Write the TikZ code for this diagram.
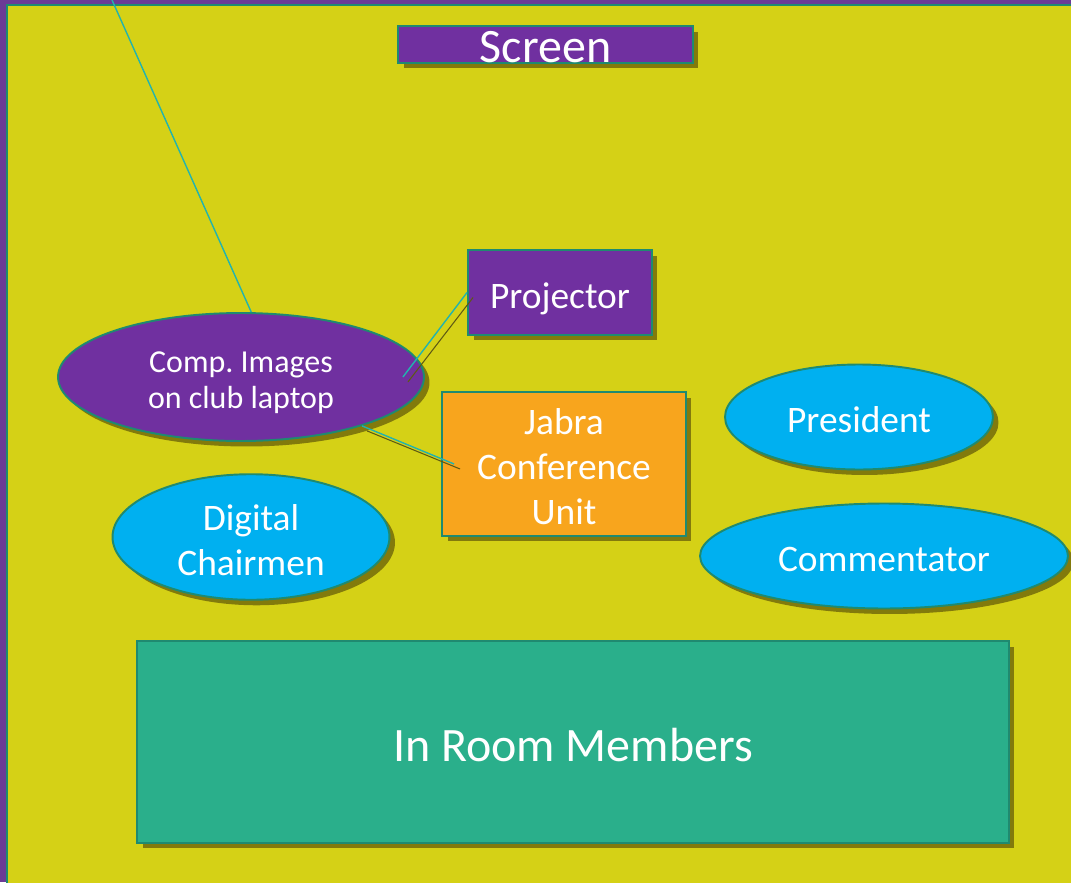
\documentclass[tikz,border=0pt]{standalone}
\usepackage{fontspec}
\setmainfont{Carlito}
\usetikzlibrary{shapes.geometric,shadows}

\definecolor{plum}{HTML}{7030A0}
\definecolor{framepurple}{HTML}{6B3A96}
\definecolor{lime}{HTML}{D5D116}
\definecolor{rim}{HTML}{1F8A70}
\definecolor{sky}{HTML}{00B0F0}
\definecolor{amber}{HTML}{F8A51D}
\definecolor{seagreen}{HTML}{2AAF8B}
\definecolor{shade}{HTML}{827A0C}
\definecolor{wirecol}{HTML}{22B3AE}
\definecolor{wireshade}{HTML}{5E5A14}

\newcommand{\bigtxt}{\fontsize{27.3}{33}\selectfont}
\newcommand{\midtxt}{\fontsize{21.3}{25.6}\selectfont}
\newcommand{\smalltxt}{\fontsize{18.2}{20.5}\selectfont}
\newcommand{\linetop}{\rule{0pt}{1.0em}}

\begin{document}
\begin{tikzpicture}[x=0.02cm,y=-0.02cm,
  box/.style={draw=rim,line width=1.1pt,text=white,align=center,inner sep=0pt,
    execute at begin node={\linetop},
    execute at end node={\rule[-0.17em]{0pt}{0.17em}},
    drop shadow={shadow xshift=0.11cm,shadow yshift=-0.11cm,fill=shade,opacity=1}},
  oval/.style={box,ellipse},
  wire/.style={draw=wirecol,line width=0.8pt},
  wireshadow/.style={draw=wireshade,line width=0.6pt}]
  \useasboundingbox (0,0) rectangle (1071,882);

  % fond
  \fill[framepurple] (0,0) rectangle (1071,882);
  \filldraw[fill=lime,draw=rim,line width=1.1pt] (7,5) rectangle (1080,890);

  % ecran
  \node[box,fill=plum,font=\bigtxt,text height=0.74cm,text depth=0cm,
    minimum width=5.9cm,minimum height=0.74cm] (screen) at (545.5,44.5) {Screen};

  % proiector si laptop
  \node[box,fill=plum,font=\midtxt,minimum width=3.68cm,minimum height=1.7cm] (projector) at (560,292.5) {Projector};
  \node[oval,fill=plum,font=\smalltxt,minimum width=7.32cm,minimum height=2.56cm] (laptop) at (241,377) {\linetop Comp.\ Images\\on club laptop};

  % jabra
  \node[box,fill=amber,font=\midtxt,minimum width=4.88cm,minimum height=2.88cm] (jabra) at (564,464) {\linetop Jabra\\Conference\\Unit};

  % persoane
  \node[oval,fill=sky,font=\midtxt,minimum width=5.36cm,minimum height=2.1cm] (president) at (859,417) {President};
  \node[oval,fill=sky,font=\midtxt,minimum width=7.36cm,minimum height=2.1cm] (commentator) at (884,556) {Commentator};
  \node[oval,fill=sky,font=\midtxt,minimum width=5.54cm,minimum height=2.5cm] (chairmen) at (251,537) {\linetop Digital\\Chairmen};

  % sala
  \node[box,fill=seagreen,font=\bigtxt,minimum width=17.44cm,minimum height=4.04cm] (members) at (573,742) {In Room Members};

  % legaturi
  \coordinate (skyline) at (112,0);
  \draw[wire] (skyline) -- (laptop.81);
  \draw[wireshadow] ([shift={(5,5)}]laptop.east) ++(-22,0) -- ([shift={(6,5)}]projector.west);
  \draw[wire] ([xshift=-0.44cm]laptop.east) -- (projector.west);
  \draw[wireshadow] ([shift={(5,5)}]laptop.-22) -- ([shift={(19,5)}]jabra.west);
  \draw[wire] (laptop.-22) -- ([xshift=0.26cm]jabra.west);
\end{tikzpicture}
\end{document}
